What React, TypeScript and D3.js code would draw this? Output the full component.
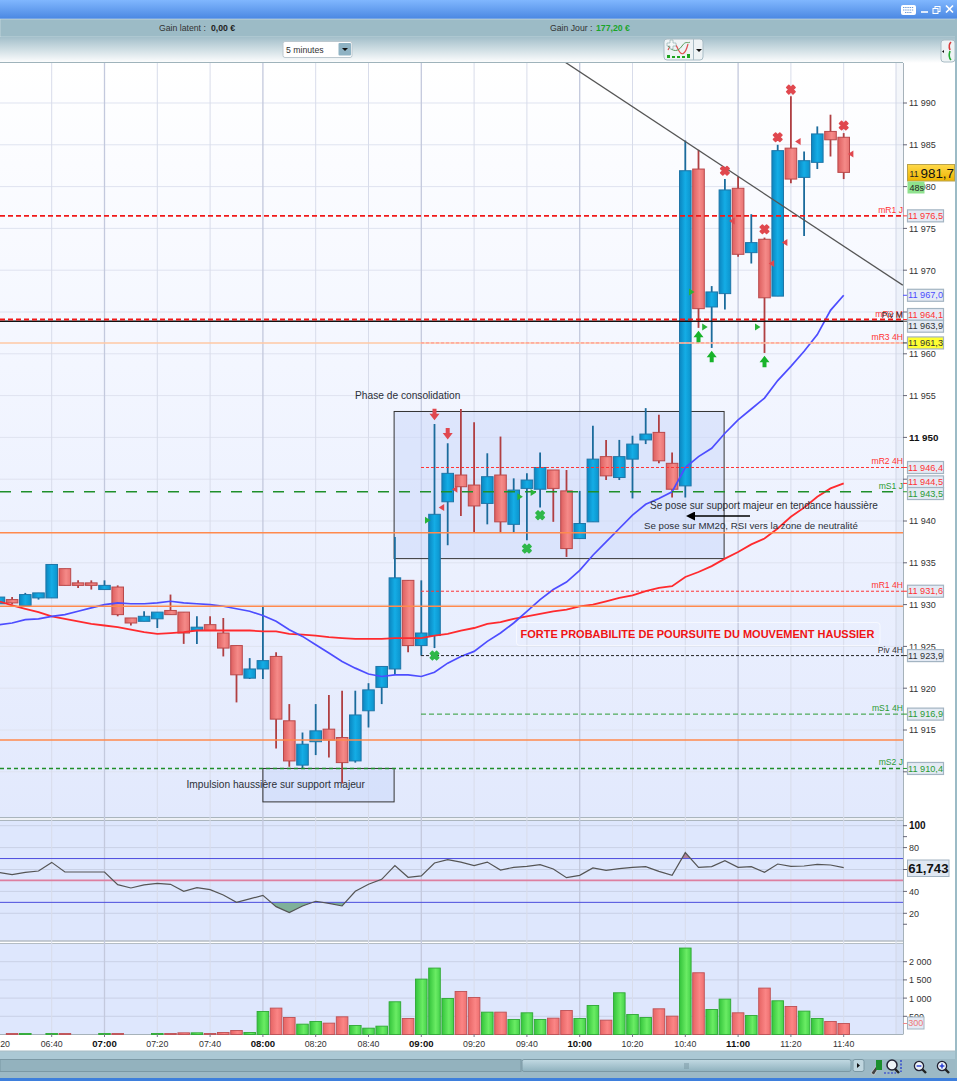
import React from "react";
import * as d3 from "d3";

// 5 minute candles, 06:20 -> 11:40
const times = [
  "06:20","06:25","06:30","06:35","06:40","06:45","06:50","06:55",
  "07:00","07:05","07:10","07:15","07:20","07:25","07:30","07:35","07:40","07:45","07:50","07:55",
  "08:00","08:05","08:10","08:15","08:20","08:25","08:30","08:35","08:40","08:45","08:50","08:55",
  "09:00","09:05","09:10","09:15","09:20","09:25","09:30","09:35","09:40","09:45","09:50","09:55",
  "10:00","10:05","10:10","10:15","10:20","10:25","10:30","10:35","10:40","10:45","10:50","10:55",
  "11:00","11:05","11:10","11:15","11:20","11:25","11:30","11:35","11:40",
];
const opens = [
  11930.1,11930.6,11929.9,11930.8,11930.8,11934.3,11932.6,11932.6,
  11931.8,11932.1,11928.4,11928.0,11928.3,11929.3,11929.1,11926.9,11927.6,11926.6,11925.1,11921.2,
  11922.3,11923.8,11916.1,11910.8,11913.6,11915.1,11914.1,11911.3,11917.3,11920.1,11922.3,11932.9,
  11925.1,11926.3,11942.3,11945.5,11944.3,11942.1,11945.5,11939.6,11943.9,11943.8,11946.1,11943.6,
  11937.9,11939.9,11947.7,11945.2,11947.4,11949.7,11950.6,11946.9,11944.2,11982.1,11965.6,11967.2,
  11979.8,11972.1,11973.7,11966.9,11984.6,11981.1,11982.9,11986.6,11985.9,
];
const highs = [
  11930.9,11930.9,11931.4,11931.4,11934.8,11934.3,11932.9,11932.9,
  11932.9,11932.3,11928.4,11929.2,11929.1,11931.2,11929.1,11928.6,11928.6,11928.4,11925.1,11923.6,
  11929.8,11924.3,11918.1,11914.7,11918.1,11919.2,11919.7,11919.7,11920.6,11922.6,11938.1,11932.9,
  11932.9,11951.6,11949.3,11953.4,11951.8,11948.1,11950.1,11945.1,11945.7,11948.2,11946.1,11946.1,
  11943.6,11951.4,11949.7,11949.7,11950.2,11953.5,11952.7,11948.2,11985.5,11984.4,11968.1,11980.9,
  11981.2,11976.7,11973.9,11985.0,11990.8,11984.2,11987.2,11988.6,11986.4,
];
const lows = [
  11930.1,11930.0,11929.9,11930.6,11930.8,11932.3,11932.0,11931.8,
  11931.8,11928.6,11927.5,11928.0,11927.2,11928.8,11925.3,11925.3,11926.9,11923.8,11918.3,11921.1,
  11921.1,11912.8,11910.6,11910.4,11912.0,11911.7,11908.6,11911.1,11915.3,11918.1,11921.6,11924.3,
  11923.9,11924.8,11937.1,11940.6,11938.6,11939.6,11938.6,11938.6,11937.7,11941.6,11939.9,11935.7,
  11937.9,11939.9,11944.9,11944.9,11942.7,11949.2,11946.9,11942.8,11942.8,11963.1,11960.7,11965.3,
  11971.6,11970.8,11960.1,11966.9,11980.4,11974.1,11982.1,11983.6,11980.9,
];
const closes = [
  11930.9,11930.2,11931.2,11931.4,11934.8,11932.3,11932.3,11932.3,
  11932.3,11928.8,11927.8,11928.6,11929.1,11928.8,11926.6,11927.3,11926.9,11924.8,11921.6,11922.3,
  11923.3,11916.3,11911.3,11913.3,11914.9,11913.8,11911.1,11916.8,11919.8,11922.6,11933.2,11925.1,
  11926.6,11940.8,11945.7,11944.1,11941.8,11945.3,11939.9,11943.7,11944.9,11946.4,11943.9,11936.7,
  11939.7,11947.4,11945.4,11947.7,11949.2,11950.4,11947.2,11943.8,11981.9,11965.4,11967.4,11979.6,
  11971.9,11973.3,11966.7,11984.3,11980.9,11983.1,11986.3,11985.6,11981.7,
];
const mm20 = [
  11927.6,11927.8,11928.2,11928.3,11928.6,11928.8,11929.2,11929.6,
  11930.0,11930.2,11930.1,11930.1,11930.2,11930.4,11930.2,11930.1,11930.0,11929.8,11929.5,11929.2,
  11928.7,11928.0,11927.0,11926.2,11925.2,11924.2,11923.2,11922.4,11921.7,11921.4,11921.6,11921.6,
  11921.4,11921.9,11923.0,11923.8,11924.4,11925.6,11926.6,11927.8,11929.2,11930.6,11931.8,11932.7,
  11934.1,11935.9,11937.5,11939.1,11940.7,11942.0,11942.7,11943.5,11946.4,11947.7,11948.7,11950.5,
  11952.1,11953.4,11954.7,11956.8,11958.5,11960.3,11962.3,11965.2,11967.0,
];
const mm50 = [
  11930.4,11929.9,11929.5,11929.1,11928.6,11928.3,11928.0,11927.7,
  11927.5,11927.3,11927.0,11926.7,11926.5,11926.6,11926.7,11926.9,11926.9,11926.9,11926.9,11926.9,
  11926.8,11926.8,11926.5,11926.4,11926.3,11926.1,11926.0,11925.9,11925.9,11925.9,11926.0,11926.0,
  11926.0,11926.3,11926.5,11926.9,11927.2,11927.7,11927.9,11928.3,11928.6,11928.9,11929.2,11929.4,
  11929.8,11930.0,11930.4,11930.8,11931.1,11931.6,11932.0,11932.2,11933.3,11933.9,11934.6,11935.5,
  11936.3,11937.2,11937.9,11939.1,11940.5,11941.6,11942.9,11943.9,11944.5,
];
const rsi = [
  57.4,55.3,57.4,58.6,66.5,57.7,57.7,57.7,
  57.7,46.2,43.1,45.9,47.4,46.5,40.1,43.4,41.6,36.7,30.0,33.1,
  36.4,26.1,20.6,26.7,31.0,29.1,26.7,40.1,46.5,51.0,63.5,52.9,
  54.1,65.9,69.0,66.8,63.5,66.8,59.5,62.0,62.9,64.4,60.5,52.5,
  54.7,61.4,59.2,60.8,62.0,62.6,58.3,54.7,75.4,62.0,62.6,68.1,
  62.0,62.6,57.4,65.0,62.9,63.2,64.7,64.1,61.7,
];
const volumes = [
  0,28,28,0,28,28,0,0,
  28,28,0,0,28,28,46,46,28,55,110,55,
  633,725,468,284,358,312,486,248,174,229,899,440,
  1522,1825,990,1183,1018,614,614,413,596,413,449,660,
  440,798,394,1146,550,468,706,504,2375,1696,688,972,
  596,523,1275,926,770,642,440,358,303,
];
const volumeUp = [
  1,0,1,1,1,0,1,1,
  1,0,1,1,1,0,0,1,0,0,0,1,
  1,0,0,1,1,0,0,1,1,1,1,0,
  1,1,1,0,0,1,0,1,1,1,0,0,
  1,1,0,1,1,1,0,0,1,0,1,1,
  0,1,0,1,0,1,1,0,0,
];

const priceTicks = [11990,11985,11980,11975,11970,11965,11960,11955,11950,11945,11940,11935,11930,11925,11920,11915,11910];
const hiddenPriceLabels = [11965,11945,11910]; // sit behind the value boxes
const rsiTicks = [100,80,60,40,20];
const rsiMinorTicks = [90,10];
const volumeTicks = [2000,1500,1000,500];
const timeTicks = ["06:20","06:40","07:00","07:20","07:40","08:00","08:20","08:40","09:00","09:20","09:40","10:00","10:20","10:40","11:00","11:20","11:40"];

// support / resistance levels
const mR1J = 11976.5, mR2M = 11964.1, pivM = 11963.9, mR34H = 11961.3, mR24H = 11946.4;
const mS1J = 11943.5, mR14H = 11931.6, piv4H = 11923.9, mS14H = 11916.9, mS2J = 11910.4;
const orangeLevels = [11938.6, 11929.8, 11913.8];

const redCrossT = ["10:55","11:10","11:15","11:20","11:40"], redCrossP = [11981.9,11974.9,11985.9,11991.6,11987.3];
const greenCrossT = ["09:05","09:40","09:45"], greenCrossP = [11923.9,11936.7,11940.7];
const redArrowT = ["09:05","09:10"], redArrowP = [11952.7,11950.4];
const greenArrowT = ["10:45","10:50","11:10"], greenArrowP = [11962.1,11959.7,11959.1];
const redTriT = ["09:10","09:15","11:00","11:15","11:20","11:25","11:45"], redTriP = [11941.6,11943.8,11975.9,11970.8,11973.3,11985.4,11983.9];
const greenTriT = ["09:05","09:40","09:45","10:45","10:50","11:10"], greenTriP = [11940.1,11942.9,11943.4,11967.4,11963.2,11963.2];

const trendT = ["09:54.4","12:02.4"], trendP = [11994.9,11968.2];
const consoT = ["08:49.7","10:54.7"], consoP = [11953.1,11935.5];
const impulseT = ["08:00","08:49.7"], impulseP = [11910.4,11906.4];

const mins = (s: string) => {
  const [h, m] = s.split(":");
  return +h * 60 + +m;
};

const x = d3.scaleLinear().domain([mins("07:00"), mins("11:40")]).range([104.5, 843.7]);
const y = d3.scaleLinear().domain([11990, 11915]).range([103, 730]);
const yRsi = d3.scaleLinear().domain([100, 20]).range([825.7, 913.3]);
const yVol = d3.scaleLinear().domain([0, 2000]).range([1034.5, 961.7]);

const locale = d3.formatLocale({ decimal: ",", thousands: " ", grouping: [3], currency: ["", "€"] });
const fmtInt = locale.format(",d");
const fmtPrice = locale.format(",.1f");

const FONT = "'Liberation Sans', Arial, sans-serif";
const PLOT_R = 903;
const BODY_W = 11.6;

const mmLine = d3.line<number>().x((_, i) => x(mins(times[i]))).y((d) => y(d));
const rsiLine = d3.line<number>().x((_, i) => x(mins(times[i]))).y((d) => yRsi(d));
const rsiArea = (level: number) =>
  d3.area<number>().x((_, i) => x(mins(times[i]))).y0(yRsi(level)).y1((d) => yRsi(d));

const crossPath = d3.symbol(d3.symbolCross, 44)() as string;
const ARROW_DOWN = "M-2,-6 H2 V-1 H5 L0,5.5 L-5,-1 H-2 Z";
const ARROW_UP = "M-2,6 H2 V1 H5 L0,-5.5 L-5,1 H-2 Z";

// value box on the right axis
const ValueBox = (props: { value: number; color: string; dy?: number; fill?: string }) => {
  const { value, color, dy = 0, fill = "#e4eaf4" } = props;
  const cy = y(value) + dy;
  return (
    <g>
      <line x1={903} x2={908} y1={y(value)} y2={y(value)} stroke={color} />
      <rect x={907.5} y={cy - 6} width={36} height={12} fill={fill} stroke="#a3b4c2" strokeWidth={1.2} />
      <text x={925.5} y={cy + 3.2} textAnchor="middle" fontSize={9.2} fill={color}>
        {fmtPrice(value)}
      </text>
    </g>
  );
};

const LevelName = (props: { name: string; value: number; color: string }) => (
  <text x={903} y={y(props.value) - 3} textAnchor="end" fontSize={8.6} fill={props.color}>
    {props.name}
  </text>
);

const Level = (props: { value: number; color: string; width: number; dash?: string; from?: number; to?: number }) => {
  const { value, color, width, dash, from = 0, to = PLOT_R } = props;
  return <line x1={from} x2={to} y1={y(value)} y2={y(value)} stroke={color} strokeWidth={width} strokeDasharray={dash} />;
};

const Magnifier = (props: { cx: number; sign: string }) => (
  <g transform={`translate(${props.cx},1066)`}>
    <line x1={2} y1={2} x2={7} y2={7} stroke="#222" strokeWidth={2.4} />
    <circle r={4.6} fill="#eef4f8" stroke="#223" strokeWidth={1.3} />
    <line x1={-2.4} x2={2.4} y1={0} y2={0} stroke="#1a2fd0" strokeWidth={1.3} />
    {props.sign === "+" && <line y1={-2.4} y2={2.4} x1={0} x2={0} stroke="#1a2fd0" strokeWidth={1.3} />}
  </g>
);

export default function App() {
  const gridTimes = timeTicks.map(mins);
  const hour = (t: number) => t % 60 === 0;
  const lastIdx = times.length - 1;

  return (
    <svg
      width={957}
      height={1081}
      style={{ position: "absolute", left: 0, top: 0, display: "block" }}
      fontFamily={FONT}
    >
      <defs>
        <linearGradient id="title" x1="0" x2="0" y1="0" y2="1">
          <stop offset="0" stopColor="#80b7fe" />
          <stop offset="1" stopColor="#4a87e2" />
        </linearGradient>
        <linearGradient id="toolbar" x1="0" x2="0" y1="0" y2="1">
          <stop offset="0" stopColor="#a3bfca" />
          <stop offset="1" stopColor="#ffffff" />
        </linearGradient>
        <linearGradient id="main" x1="0" x2="0" y1="0" y2="1">
          <stop offset="0" stopColor="#ffffff" />
          <stop offset="0.4" stopColor="#f3f6ff" />
          <stop offset="1" stopColor="#e2e9fd" />
        </linearGradient>
        <linearGradient id="blueBody" x1="0" x2="1" y1="0" y2="0">
          <stop offset="0" stopColor="#0b86c0" />
          <stop offset="0.5" stopColor="#14ade6" />
          <stop offset="1" stopColor="#0c93cc" />
        </linearGradient>
        <linearGradient id="redBody" x1="0" x2="1" y1="0" y2="0">
          <stop offset="0" stopColor="#dd5f5f" />
          <stop offset="0.6" stopColor="#f58a88" />
          <stop offset="1" stopColor="#e87372" />
        </linearGradient>
        <linearGradient id="greenBar" x1="0" x2="1" y1="0" y2="0">
          <stop offset="0" stopColor="#33c43b" />
          <stop offset="0.6" stopColor="#6aec64" />
          <stop offset="1" stopColor="#45d24a" />
        </linearGradient>
        <linearGradient id="redBar" x1="0" x2="1" y1="0" y2="0">
          <stop offset="0" stopColor="#e66464" />
          <stop offset="0.6" stopColor="#fb8585" />
          <stop offset="1" stopColor="#ee7070" />
        </linearGradient>
        <linearGradient id="gold" x1="0" x2="0" y1="0" y2="1">
          <stop offset="0" stopColor="#ffd94a" />
          <stop offset="1" stopColor="#eeb400" />
        </linearGradient>
        <linearGradient id="thumb" x1="0" x2="0" y1="0" y2="1">
          <stop offset="0" stopColor="#c2dae3" />
          <stop offset="1" stopColor="#8fb1be" />
        </linearGradient>
        <clipPath id="plot">
          <rect x={0} y={63} width={PLOT_R} height={754} />
        </clipPath>
        <clipPath id="rsiLow">
          <rect x={0} y={yRsi(30)} width={PLOT_R} height={40} />
        </clipPath>
        <clipPath id="rsiHigh">
          <rect x={0} y={820} width={PLOT_R} height={yRsi(70) - 820} />
        </clipPath>
        <marker id="head" markerUnits="userSpaceOnUse" markerWidth={10} markerHeight={9} refX={1} refY={4.5} orient="auto">
          <path d="M0,0 L9,4.5 L0,9 Z" fill="#000" />
        </marker>
      </defs>

      {/* window chrome */}
      <rect width={957} height={1081} fill="#fff" />
      <rect width={957} height={19} fill="url(#title)" />
      <rect y={19} width={957} height={18} fill="#9cbbc6" stroke="#d5e3e8" strokeWidth={0.6} />
      <rect y={37} width={957} height={26} fill="url(#toolbar)" />
      <line x1={0} x2={903} y1={62.5} y2={62.5} stroke="#9fb3bb" />
      <rect x={955} y={19} width={2} height={1062} fill="#9cbbc6" />

      <text x={159} y={31} fontSize={8.7} fill="#333">Gain latent :</text>
      <text x={211} y={31} fontSize={8.7} fontWeight="bold" fill="#222">0,00 €</text>
      <text x={550} y={31} fontSize={8.7} fill="#333">Gain Jour :</text>
      <text x={596} y={31} fontSize={8.7} fontWeight="bold" fill="#1aa52b">177,20 €</text>

      <rect x={283} y={41.5} width={69} height={16} rx={2} fill="#fff" stroke="#bcc8cf" />
      <text x={286} y={53} fontSize={8.7} fill="#333">5 minutes</text>
      <rect x={338.5} y={43} width={12.5} height={12.5} rx={1} fill="#8fb3c4" />
      <path d="M342,48 h6 l-3,3 z" fill="#111" />

      {/* indicator button */}
      <rect x={664} y={39} width={39} height={21} rx={3} fill="#eef3f5" stroke="#a9bcc5" />
      <line x1={693.5} x2={693.5} y1={39} y2={60} stroke="#a9bcc5" />
      <path d="M696,49 h6 l-3,3 z" fill="#111" />
      <path d="M668,50 C672,42 675,42 678,49 S685,56 688,44" fill="none" stroke="#e05050" strokeWidth={1.2} />
      <path d="M668,46 C673,52 678,52 682,46 S688,44 690,42" fill="none" stroke="#5a9a5a" strokeWidth={1} />
      <path d="M667,58 v-3 h3 v3 h2 v-2 h3 v2 h2 v-2 h3 v2 h2 v-2 h3 v2 h2 v-4 h3 v4 z" fill="#1fa51f" />
      <path d="M667,43 h3 v-3 h3 v3 h3 v3 h-3 v3 h-3 v-3 h-3 z" fill="#f4f8f8" stroke="#8aa" strokeWidth={0.6} />

      {/* side tab */}
      <rect x={941} y={40} width={14} height={22} rx={3} fill="#eef3f5" stroke="#a9bcc5" />
      <path d="M944,50 v3 l-2,-1.5 z" fill="#111" />
      <path d="M951,42 q-3,3 -1,8" fill="none" stroke="#d83b3b" strokeWidth={1.6} />
      <path d="M951,60 q-3,-3 -1,-9" fill="none" stroke="#1faa2f" strokeWidth={1.6} />

      {/* title bar icons */}
      <rect x={901} y={5} width={15} height={10} rx={2} fill="#fff" />
      <path d="M903,7.5 h11 M903,10 h11 M905,12.5 h7" stroke="#6f9bd8" strokeWidth={1} strokeDasharray="1.4 0.8" />
      <line x1={921} x2={928} y1={12} y2={12} stroke="#fff" strokeWidth={1.6} />
      <rect x={935} y={6.5} width={5} height={5} fill="none" stroke="#fff" />
      <rect x={933} y={8.5} width={5} height={5} fill="#6fa5ee" stroke="#fff" />
      <path d="M946,5.5 l7,7 M953,5.5 l-7,7" stroke="#fff" strokeWidth={1.7} />

      {/* panes */}
      <rect x={0} y={63} width={PLOT_R} height={754} fill="url(#main)" />
      <rect x={0} y={817} width={PLOT_R} height={3} fill="#eef1f6" />
      <rect x={0} y={820} width={PLOT_R} height={121} fill="#dee7fd" />
      <rect x={0} y={943} width={PLOT_R} height={91.5} fill="#dee7fd" />
      <line x1={0} x2={PLOT_R} y1={817.5} y2={817.5} stroke="#aab5bd" />
      <line x1={0} x2={PLOT_R} y1={820.5} y2={820.5} stroke="#aab5bd" />
      <line x1={0} x2={PLOT_R} y1={941} y2={941} stroke="#b4bdc4" strokeWidth={1.4} />
      <line x1={0} x2={PLOT_R} y1={943.5} y2={943.5} stroke="#b4bdc4" />
      <line x1={0} x2={PLOT_R} y1={1034.5} y2={1034.5} stroke="#a6b2ba" />

      {/* grid */}
      {priceTicks.map((p) => (
        <line key={p} x1={0} x2={PLOT_R} y1={y(p)} y2={y(p)} stroke="#dfe3f0" />
      ))}
      {rsiTicks.map((v) => (
        <line key={v} x1={0} x2={PLOT_R} y1={yRsi(v)} y2={yRsi(v)} stroke="#c9d1e6" />
      ))}
      {volumeTicks.map((v) => (
        <line key={v} x1={0} x2={PLOT_R} y1={yVol(v)} y2={yVol(v)} stroke="#c9d1e6" />
      ))}
      {gridTimes.map((t) => (
        <line
          key={t}
          x1={x(t)}
          x2={x(t)}
          y1={63}
          y2={1034}
          stroke={hour(t) ? "#c3c9dd" : "#d8dcea"}
          strokeWidth={hour(t) ? 1.3 : 1}
        />
      ))}
      <rect x={896} y={63} width={7} height={971} fill="#c9d1e6" opacity={0.18} />
      <line x1={896} x2={896} y1={63} y2={1034} stroke="#d2d7e6" />
      <line x1={PLOT_R + 0.5} x2={PLOT_R + 0.5} y1={63} y2={1034.5} stroke="#a6b2ba" />

      {/* zones */}
      <g stroke="#333" fill="#ccd8fa" fillOpacity={0.55}>
        <rect
          x={x(mins(consoT[0]))}
          y={y(consoP[0])}
          width={x(mins(consoT[1])) - x(mins(consoT[0]))}
          height={y(consoP[1]) - y(consoP[0])}
        />
        <rect
          x={x(mins(impulseT[0]))}
          y={y(impulseP[0])}
          width={x(mins(impulseT[1])) - x(mins(impulseT[0]))}
          height={y(impulseP[1]) - y(impulseP[0])}
        />
      </g>

      <g clipPath="url(#plot)">
        {/* candles */}
        {times.map((t, i) => {
          const up = closes[i] >= opens[i];
          const cx = x(mins(t));
          const top = y(Math.max(opens[i], closes[i]));
          const bottom = y(Math.min(opens[i], closes[i]));
          return (
            <g key={t}>
              <line x1={cx} x2={cx} y1={y(highs[i])} y2={y(lows[i])} stroke={up ? "#1b6b9c" : "#b03f42"} strokeWidth={1.8} />
              <rect
                x={cx - BODY_W / 2}
                y={top}
                width={BODY_W}
                height={Math.max(bottom - top, 1)}
                fill={up ? "url(#blueBody)" : "url(#redBody)"}
                stroke={up ? "#1f76a8" : "#b9494b"}
                strokeWidth={1}
              />
            </g>
          );
        })}

        <path d={mmLine(mm50) as string} fill="none" stroke="#ff2a2e" strokeWidth={1.8} />
        <path d={mmLine(mm20) as string} fill="none" stroke="#4d4dff" strokeWidth={1.7} />

        {/* levels */}
        {orangeLevels.map((p) => (
          <Level key={p} value={p} color="#ff8a4d" width={1.6} />
        ))}
        <Level value={mR34H} color="#ffc8a4" width={1.6} />
        <Level value={pivM} color="#111" width={1.6} />
        <Level value={mR2M} color="#f01818" width={1.8} dash="5 3" />
        <Level value={mR1J} color="#f01818" width={1.8} dash="5 3" />
        <Level value={mS1J} color="#1f8f2a" width={1.6} dash="11 10" to={893} />
        <Level value={mS2J} color="#1f8f2a" width={1.5} dash="4 3" />
        <Level value={mR34H} color="#ff8d8d" width={1} dash="3 2" from={421} />
        <Level value={mR24H} color="#f33" width={1} dash="3 2" from={421} />
        <Level value={mR14H} color="#f33" width={1} dash="3 2" from={421} />
        <Level value={piv4H} color="#222" width={1} dash="3 2" from={421} />
        <Level value={mS14H} color="#2a9a33" width={1} dash="5 3" from={421} />

        <line
          x1={x(mins(trendT[0]))}
          x2={x(mins(trendT[1]))}
          y1={y(trendP[0])}
          y2={y(trendP[1])}
          stroke="#555"
          strokeWidth={1.3}
        />

        {/* signals */}
        {redTriT.map((t, i) => (
          <path key={t} transform={`translate(${x(mins(t)) - 6.5},${y(redTriP[i])})`} d="M3,-3.5 L-2.5,0 L3,3.5 Z" fill="#e0484f" />
        ))}
        {greenTriT.map((t, i) => (
          <path key={t} transform={`translate(${x(mins(t)) - 6.5},${y(greenTriP[i])})`} d="M-3,-3.5 L2.5,0 L-3,3.5 Z" fill="#28b438" />
        ))}
        {redCrossT.map((t, i) => (
          <path key={t} transform={`translate(${x(mins(t))},${y(redCrossP[i])}) rotate(45)`} d={crossPath} fill="#e0484f" stroke="#e0484f" strokeWidth={1.6} strokeLinejoin="round" />
        ))}
        {greenCrossT.map((t, i) => (
          <path key={t} transform={`translate(${x(mins(t))},${y(greenCrossP[i])}) rotate(45)`} d={crossPath} fill="#2fb84a" stroke="#2fb84a" strokeWidth={1.6} strokeLinejoin="round" />
        ))}
        {redArrowT.map((t, i) => (
          <path key={t} transform={`translate(${x(mins(t))},${y(redArrowP[i])})`} d={ARROW_DOWN} fill="#e0484f" />
        ))}
        {greenArrowT.map((t, i) => (
          <path key={t} transform={`translate(${x(mins(t))},${y(greenArrowP[i])})`} d={ARROW_UP} fill="#18b32a" />
        ))}

        {/* annotations */}
        <g fill="#2c3038">
          <text x={355} y={399} fontSize={10.2}>Phase de consolidation</text>
          <text x={650} y={509} fontSize={10.05}>Se pose sur support majeur en tendance haussière</text>
          <text x={644} y={529} fontSize={9.7}>Se pose sur MM20, RSI vers la zone de neutralité</text>
          <text x={186.5} y={788} fontSize={10.2}>Impulsion haussière sur support majeur</text>
        </g>
        <line x1={750} x2={694} y1={516} y2={516} stroke="#000" strokeWidth={1.6} markerEnd="url(#head)" />
        <rect x={516.5} y={622.5} width={363.5} height={23} rx={3} fill="none" stroke="#fff" strokeOpacity={0.6} />
        <text x={520.5} y={638} fontSize={11} fontWeight="bold" fill="#f01414">
          FORTE PROBABILITE DE POURSUITE DU MOUVEMENT HAUSSIER
        </text>
      </g>

      {/* RSI pane */}
      <g>
        <path clipPath="url(#rsiLow)" d={rsiArea(30)(rsi) as string} fill="#7fb09a" />
        <path clipPath="url(#rsiHigh)" d={rsiArea(70)(rsi) as string} fill="#b0829c" />
        <line x1={0} x2={PLOT_R} y1={yRsi(70)} y2={yRsi(70)} stroke="#4d4de0" />
        <line x1={0} x2={PLOT_R} y1={yRsi(50)} y2={yRsi(50)} stroke="#dd7fa0" strokeWidth={1.8} />
        <line x1={0} x2={PLOT_R} y1={yRsi(30)} y2={yRsi(30)} stroke="#4d4de0" />
        <path d={rsiLine(rsi) as string} fill="none" stroke="#555" strokeWidth={1.2} />
      </g>

      {/* volume pane */}
      {times.map((t, i) =>
        volumes[i] > 0 ? (
          <rect
            key={t}
            x={x(mins(t)) - BODY_W / 2}
            y={yVol(volumes[i])}
            width={BODY_W}
            height={yVol(0) - yVol(volumes[i])}
            fill={volumeUp[i] ? "url(#greenBar)" : "url(#redBar)"}
            stroke={volumeUp[i] ? "#2fa835" : "#bd5054"}
            strokeWidth={0.9}
          />
        ) : null
      )}

      {/* price axis */}
      {priceTicks.map((p) => (
        <g key={p}>
          <line x1={903} x2={907} y1={y(p)} y2={y(p)} stroke="#667" />
          {!hiddenPriceLabels.includes(p) && (
            <text
              x={909}
              y={y(p) + 3.4}
              fontSize={p === 11950 ? 9.8 : 9}
              fontWeight={p === 11950 ? "bold" : "normal"}
              fill={p === 11950 ? "#111" : "#333"}
            >
              {fmtInt(p)}
            </text>
          )}
        </g>
      ))}

      <LevelName name="mR1 J" value={mR1J} color="#f33" />
      <LevelName name="mR2 M" value={mR2M} color="#f33" />
      <LevelName name="Piv M" value={pivM} color="#333" />
      <LevelName name="mR3 4H" value={mR34H} color="#f33" />
      <LevelName name="mR2 4H" value={mR24H} color="#f33" />
      <LevelName name="mS1 J" value={mS1J} color="#2a9a33" />
      <LevelName name="mR1 4H" value={mR14H} color="#f33" />
      <LevelName name="Piv 4H" value={piv4H} color="#333" />
      <LevelName name="mS1 4H" value={mS14H} color="#2a9a33" />
      <LevelName name="mS2 J" value={mS2J} color="#2a9a33" />

      <ValueBox value={mR1J} color="#f33" />
      <ValueBox value={mm20[lastIdx]} color="#4d4dff" />
      <ValueBox value={mR2M} color="#f33" dy={-5} />
      <ValueBox value={pivM} color="#333" dy={5} />
      <ValueBox value={mR34H} color="#333" fill="#ffff33" />
      <ValueBox value={mR24H} color="#f33" />
      <ValueBox value={mm50[lastIdx]} color="#f33" dy={-1.5} />
      <ValueBox value={mS1J} color="#2a9a33" dy={1.8} />
      <ValueBox value={mR14H} color="#f33" />
      <ValueBox value={piv4H} color="#333" />
      <ValueBox value={mS14H} color="#2a9a33" />
      <ValueBox value={mS2J} color="#2a9a33" />

      {/* last price */}
      <rect x={907.5} y={164.5} width={47} height={16.5} fill="url(#gold)" stroke="#b9a24a" />
      <text x={909.5} y={176.5} fontSize={8.6} fill="#222">11</text>
      <text x={920.5} y={177.5} fontSize={13.4} fill="#111">{fmtPrice(closes[lastIdx]).slice(3)}</text>
      <rect x={907.5} y={181.5} width={17} height={12} fill="#8fe28f" />
      <text x={909.5} y={190.8} fontSize={9} fill="#222">48s</text>

      {/* RSI axis */}
      {rsiTicks.concat(rsiMinorTicks).map((v) => (
        <line key={v} x1={903} x2={907} y1={yRsi(v)} y2={yRsi(v)} stroke="#667" />
      ))}
      {rsiTicks.filter((v) => v !== 60).map((v) => (
        <text
          key={v}
          x={909}
          y={yRsi(v) + 3.4}
          fontSize={v === 100 ? 10 : 9}
          fontWeight={v === 100 ? "bold" : "normal"}
          fill={v === 100 ? "#111" : "#333"}
        >
          {v}
        </text>
      ))}
      <rect x={907.5} y={860} width={41.5} height={16.5} fill="#dfe7f2" stroke="#a3b4c2" />
      <text x={928.3} y={873} textAnchor="middle" fontSize={13.2} fontWeight="bold" fill="#111">
        61,743
      </text>

      {/* volume axis */}
      {volumeTicks.map((v) => (
        <g key={v}>
          <line x1={903} x2={907} y1={yVol(v)} y2={yVol(v)} stroke="#667" />
          <text x={909} y={yVol(v) + 3.4} fontSize={9} fill="#333">
            {fmtInt(v)}
          </text>
        </g>
      ))}
      <line x1={903} x2={908} y1={yVol(volumes[lastIdx])} y2={yVol(volumes[lastIdx])} stroke="#e88" />
      <rect x={907.5} y={1017} width={16.5} height={12} fill="#e4eaf4" stroke="#a3b4c2" />
      <text x={915.7} y={1026.3} textAnchor="middle" fontSize={9} fill="#e77">300</text>

      {/* time axis */}
      {gridTimes.map((t, i) => (
        <g key={t}>
          <line x1={x(t)} x2={x(t)} y1={1034} y2={1037} stroke="#778" />
          <text
            x={x(t)}
            y={1047}
            textAnchor="middle"
            fontSize={hour(t) ? 9.6 : 8.8}
            fontWeight={hour(t) ? "bold" : "normal"}
            fill={hour(t) ? "#111" : "#333"}
          >
            {timeTicks[i]}
          </text>
        </g>
      ))}

      {/* footer */}
      <rect y={1051} width={955} height={27} fill="#9cb9c5" />
      <rect y={1051} width={955} height={8} fill="#b2cfda" opacity={0.7} />
      <line x1={0} x2={955} y1={1051} y2={1051} stroke="#a9bcc4" />
      <rect x={0} y={1059.5} width={521} height={12} fill="#93b2be" stroke="#7b98a4" />
      <rect x={522} y={1059.5} width={329} height={12} rx={2} fill="url(#thumb)" stroke="#7b98a4" />
      <path d="M684,1064 h5 M684,1066 h5 M684,1068 h5" stroke="#7b98a4" />
      <rect x={853} y={1059.5} width={11} height={12} rx={2} fill="#bfd6df" stroke="#7b98a4" />
      <path d="M857,1063 l3,2.5 l-3,2.5 z" fill="#111" />
      <path d="M871,1073 l6,-8 l2,2 l-5,8 z" fill="#444" stroke="#fff" strokeWidth={0.5} />
      <rect x={876} y={1060} width={6} height={10} fill="#1c8f2d" />
      <circle cx={892} cy={1065} r={5} fill="#eef4f8" stroke="#223" strokeWidth={1.5} />
      <line x1={895} y1={1069} x2={899} y2={1073} stroke="#222" strokeWidth={2.4} />
      <path d="M901,1060 v12 M884,1073 h12" stroke="#1a2fd0" strokeWidth={1.2} strokeDasharray="2 1.5" />
      <Magnifier cx={919} sign="-" />
      <Magnifier cx={942} sign="+" />
      <rect y={1078} width={957} height={3} fill="#3e7fdc" />
    </svg>
  );
}
